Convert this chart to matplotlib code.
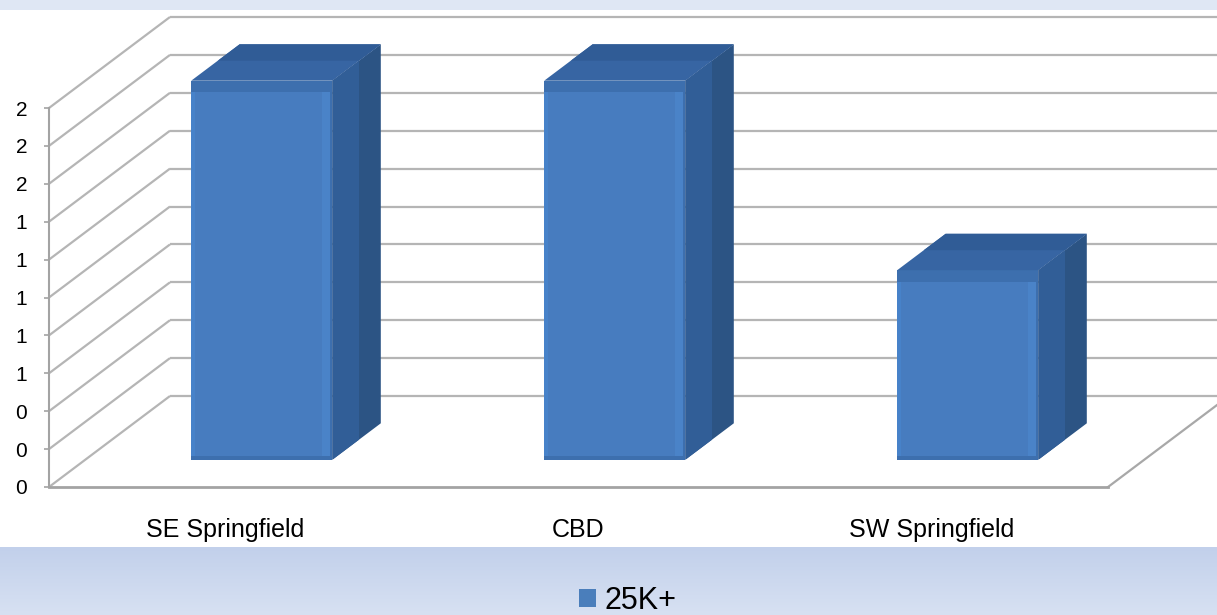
import numpy as np
import matplotlib.pyplot as plt
from matplotlib.patches import Polygon, Rectangle, Patch
from matplotlib.colors import LinearSegmentedColormap

plt.rcParams['font.family'] = ['Liberation Sans', 'DejaVu Sans']

# Chart data
categories = ['SE Springfield', 'CBD', 'SW Springfield']
values = [2.0, 2.0, 1.0]
series_name = '25K+'
y_ticks = np.arange(0, 2.01, 0.2)

W, H = 1217, 615
fig = plt.figure(figsize=(W / 100, H / 100), dpi=100, facecolor='white')

# light blue bands at top and bottom of the chart area
fig.patches.append(Rectangle((0, 1 - 10 / H), 1, 10 / H, transform=fig.transFigure,
                             facecolor='#dfe7f4', edgecolor='none', zorder=0))
bg = fig.add_axes([0, 0, 1, 68 / H], zorder=0)
grad = np.linspace(0, 1, 100).reshape(-1, 1)
band_cmap = LinearSegmentedColormap.from_list('band', ['#d7e1f2', '#c2d0eb'])
bg.imshow(grad, aspect='auto', cmap=band_cmap, extent=[0, 1, 0, 1], origin='lower')
bg.axis('off')

# front plane of the plot: x from 49px to 1108px, y from 487px (0) to 108px (2.0)
left, right, y0, y2 = 49, 1108, 487, 108
ax = fig.add_axes([left / W, (H - y0) / H, (right - left) / W, (y0 - y2) / H], zorder=1)
ax.patch.set_visible(False)
ax.set_xlim(-0.5, len(categories) - 0.5)
ax.set_ylim(0, 2.0)

# oblique depth offset (full depth) in data units
px_x = (right - left) / len(categories)
px_y = (y0 - y2) / 2.0
DX = 121 / px_x
DY = 91 / px_y

grid_kw = dict(color='#b5b5b5', lw=1.6, clip_on=False, zorder=1, solid_capstyle='butt')
x_lo, x_hi = -0.5, len(categories) - 0.5
for v in y_ticks:
    ax.plot([x_lo, x_lo + DX], [v, v + DY], **grid_kw)
    ax.plot([x_lo + DX, x_hi + DX], [v + DY, v + DY], **grid_kw)
# right edge of the floor
ax.plot([x_hi, x_hi + DX], [0, DY], color='#a8a8a8', lw=1.6, clip_on=False, zorder=1)

# 3D bars
bar_w = 0.40
f0, f1 = 0.30, 0.70


def face(pts, color, z=3):
    ax.add_patch(Polygon(pts, closed=True, facecolor=color, edgecolor='none',
                         clip_on=False, zorder=z))


for i, v in enumerate(values):
    xa = i - bar_w / 2 + f0 * DX
    xb = i + bar_w / 2 + f0 * DX
    ya = f0 * DY
    yb = v + f0 * DY
    ddx = (f1 - f0) * DX
    ddy = (f1 - f0) * DY
    # front face
    face([(xa, ya), (xb, ya), (xb, yb), (xa, yb)], '#3d6fae')
    ix = 0.03
    iy = 0.06
    face([(xa + 0.012, ya + 0.02), (xb - ix, ya + 0.02), (xb - ix, yb - iy),
          (xa + 0.012, yb - iy)], '#477cbf', 4)
    face([(xb - ix, ya + 0.02), (xb - 0.008, ya + 0.02), (xb - 0.008, yb - iy),
          (xb - ix, yb - iy)], '#4a83c8', 4)
    face([(xa, ya + 0.02), (xa + 0.012, ya + 0.02), (xa + 0.012, yb - iy),
          (xa, yb - iy)], '#4782c9', 4)
    # side face
    face([(xb, ya), (xb + ddx, ya + ddy), (xb + ddx, yb + ddy), (xb, yb)], '#2c5484')
    face([(xb, ya), (xb + ddx * 0.55, ya + ddy * 0.55), (xb + ddx * 0.55, yb + ddy * 0.55),
          (xb, yb)], '#315e97', 4)
    # top face
    face([(xa, yb), (xb, yb), (xb + ddx, yb + ddy), (xa + ddx, yb + ddy)], '#3765a3')
    face([(xa + ddx * 0.55, yb + ddy * 0.55), (xb + ddx * 0.55, yb + ddy * 0.55),
          (xb + ddx, yb + ddy), (xa + ddx, yb + ddy)], '#305c96', 4)

# axes styling
for s in ['top', 'right']:
    ax.spines[s].set_visible(False)
ax.spines['left'].set_color('#a3a3a3')
ax.spines['left'].set_linewidth(1.5)
ax.spines['bottom'].set_color('#a3a3a3')
ax.spines['bottom'].set_linewidth(2)
ax.spines['left'].set_zorder(2)
ax.spines['bottom'].set_zorder(2)

ax.set_yticks(y_ticks)
ax.set_yticklabels([f'{t:.0f}' for t in y_ticks])
ax.tick_params(axis='y', length=3.6, width=1.2, color='#a3a3a3', pad=12,
               labelsize=15, labelcolor='black')
ax.set_xticks(range(len(categories)))
ax.set_xticklabels(categories)
ax.tick_params(axis='x', length=0, pad=22, labelsize=18, labelcolor='black')

# legend
handle = Patch(facecolor='#4a7ebb', edgecolor='none', label=series_name)
fig.legend(handles=[handle], loc='center', bbox_to_anchor=(628 / W, 1 - 601 / H),
           frameon=False, fontsize=22, handlelength=0.55, handleheight=0.55,
           handletextpad=0.3, borderpad=0)

fig.savefig('out.png', dpi=100, facecolor=fig.get_facecolor())
